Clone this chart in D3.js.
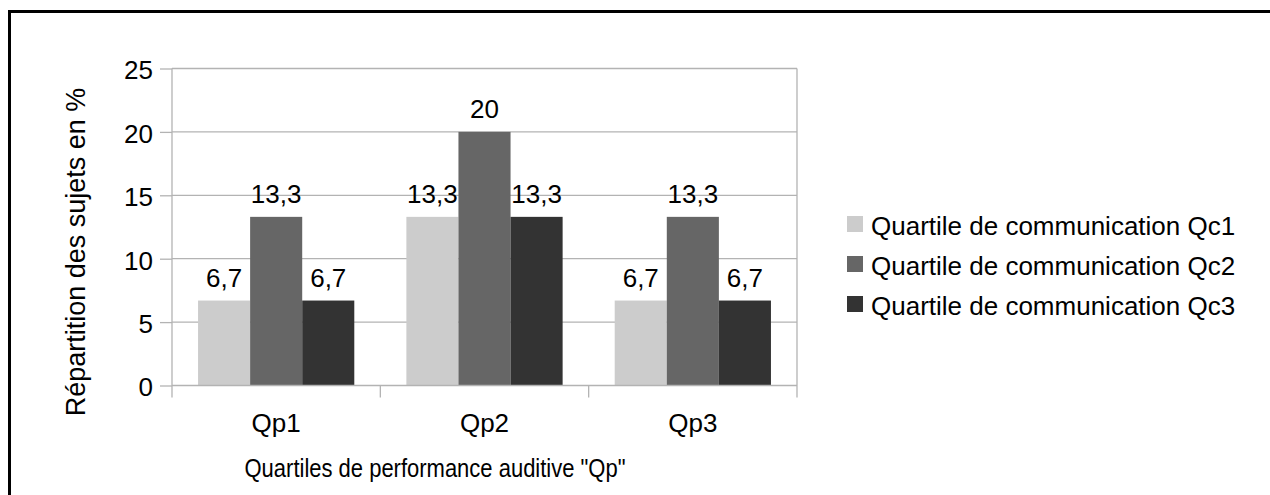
<!DOCTYPE html>
<html>
<head>
<meta charset="utf-8">
<script src="https://cdn.jsdelivr.net/npm/d3@7"></script>
<style>
  html, body { margin: 0; padding: 0; background: #fff; }
  svg { display: block; font-family: "Liberation Sans", Arial, sans-serif; }
</style>
</head>
<body>
<svg id="chart" width="1270" height="495"></svg>
<script>
// Distribution of subjects (%) per auditory performance quartile
const categories = ["Qp1", "Qp2", "Qp3"];
const seriesNames = [
  "Quartile de communication Qc1",
  "Quartile de communication Qc2",
  "Quartile de communication Qc3"
];
const qc1 = [6.7, 13.3, 6.7];
const qc2 = [13.3, 20, 13.3];
const qc3 = [6.7, 13.3, 6.7];
const yTicks = [0, 5, 10, 15, 20, 25];
const seriesColors = ["#cccccc", "#666666", "#333333"];

const series = [qc1, qc2, qc3];
const svg = d3.select("#chart");

const plot = { left: 172, right: 797, top: 68.5, bottom: 385.5 };
const gridColor = "#b3b3b3";

// outer frame (only top and left edges fall inside the canvas)
svg.append("rect")
  .attr("x", 9.5).attr("y", 11.5)
  .attr("width", 1400).attr("height", 600)
  .attr("fill", "none").attr("stroke", "#000").attr("stroke-width", 3);

const x0 = d3.scaleBand().domain(categories).range([plot.left, plot.right]).padding(0);
const x1 = d3.scaleBand().domain(d3.range(series.length))
  .range([0, x0.bandwidth()]).paddingInner(0).paddingOuter(0.5);
const y = d3.scaleLinear().domain([0, 25]).range([plot.bottom, plot.top]);

// horizontal gridlines
svg.append("g").selectAll("line").data(yTicks.filter(t => t > 0)).join("line")
  .attr("x1", plot.left).attr("x2", plot.right)
  .attr("y1", d => y(d)).attr("y2", d => y(d))
  .attr("stroke", gridColor).attr("stroke-width", 1.3);

// right edge of plot area
svg.append("line")
  .attr("x1", plot.right).attr("x2", plot.right)
  .attr("y1", plot.top).attr("y2", plot.bottom + 12)
  .attr("stroke", gridColor).attr("stroke-width", 1.3);

// bars
const groups = svg.append("g").selectAll("g").data(categories).join("g")
  .attr("transform", c => `translate(${x0(c)},0)`);

groups.selectAll("rect")
  .data((c, i) => series.map((s, k) => ({ k, v: s[i] })))
  .join("rect")
  .attr("x", d => x1(d.k))
  .attr("width", x1.bandwidth())
  .attr("y", d => y(d.v))
  .attr("height", d => y(0) - y(d.v))
  .attr("fill", d => seriesColors[d.k]);

// value labels
const fmt = v => String(v).replace(".", ",");
groups.selectAll("text.val")
  .data((c, i) => series.map((s, k) => ({ k, v: s[i] })))
  .join("text")
  .attr("class", "val")
  .attr("x", d => x1(d.k) + x1.bandwidth() / 2)
  .attr("y", d => y(d.v) - 14)
  .attr("text-anchor", "middle")
  .attr("font-size", 26)
  .attr("fill", "#000")
  .text(d => fmt(d.v));

// y axis
const yAxis = svg.append("g")
  .attr("transform", `translate(${plot.left},0)`)
  .call(d3.axisLeft(y).tickValues(yTicks).tickSize(12).tickPadding(7).tickSizeOuter(0));
yAxis.select(".domain").remove();
yAxis.selectAll(".tick line").attr("stroke", gridColor).attr("stroke-width", 1.3);
yAxis.selectAll(".tick text")
  .attr("font-size", 26).attr("font-family", "Liberation Sans, Arial, sans-serif")
  .attr("fill", "#000").attr("dy", "0.4em");
svg.append("line")
  .attr("x1", plot.left).attr("x2", plot.left)
  .attr("y1", plot.top).attr("y2", plot.bottom + 12)
  .attr("stroke", gridColor).attr("stroke-width", 1.3);

// x axis baseline, category separators and labels
svg.append("line")
  .attr("x1", plot.left).attr("x2", plot.right)
  .attr("y1", y(0)).attr("y2", y(0))
  .attr("stroke", gridColor).attr("stroke-width", 1.3);
svg.append("g").selectAll("line").data(categories.slice(1)).join("line")
  .attr("x1", c => x0(c)).attr("x2", c => x0(c))
  .attr("y1", y(0)).attr("y2", y(0) + 12)
  .attr("stroke", gridColor).attr("stroke-width", 1.3);

const xAxis = svg.append("g")
  .attr("transform", `translate(0,${y(0)})`)
  .call(d3.axisBottom(x0).tickSize(0).tickPadding(0));
xAxis.select(".domain").remove();
xAxis.selectAll(".tick text")
  .attr("font-size", 26).attr("font-family", "Liberation Sans, Arial, sans-serif")
  .attr("fill", "#000").attr("y", 46).attr("dy", 0);

// axis titles (x title set in a slightly condensed face)
svg.append("text")
  .attr("transform", "translate(435,477) scale(0.88,1)")
  .attr("text-anchor", "middle").attr("font-size", 25)
  .text('Quartiles de performance auditive "Qp"');

svg.append("text")
  .attr("transform", "translate(85,252) rotate(-90)")
  .attr("text-anchor", "middle").attr("font-size", 27)
  .text("Répartition des sujets en %");

// legend
const legend = svg.append("g").attr("transform", "translate(847,216)");
const items = legend.selectAll("g").data(seriesNames).join("g")
  .attr("transform", (d, i) => `translate(0,${i * 40})`);
items.append("rect").attr("width", 16).attr("height", 16)
  .attr("fill", (d, i) => seriesColors[i]);
items.append("text").attr("x", 24).attr("y", 18.5)
  .attr("font-size", 26).text(d => d);
</script>
</body>
</html>
